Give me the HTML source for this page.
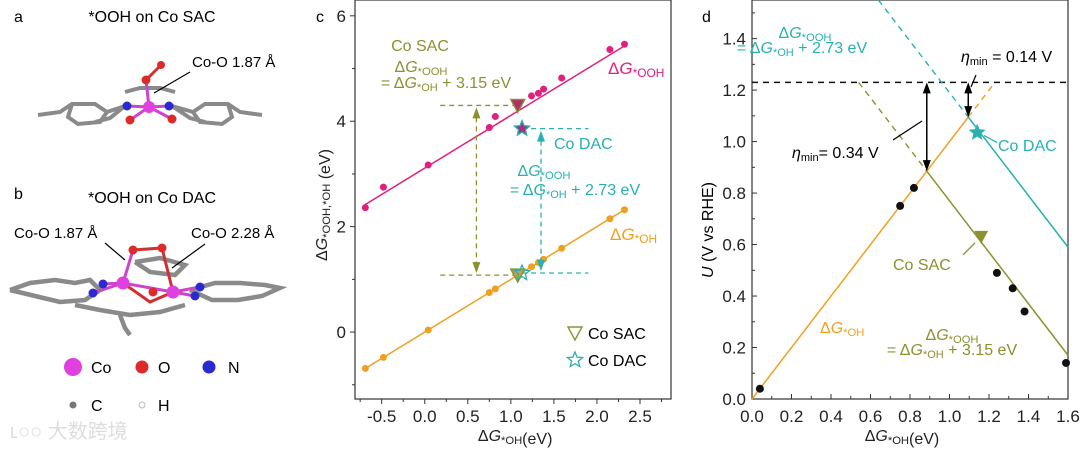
<!DOCTYPE html>
<html><head><meta charset="utf-8"><style>
html,body{margin:0;padding:0;background:#fff}
svg{display:block;font-family:"Liberation Sans","Noto Sans CJK SC",sans-serif}
</style></head><body>
<svg id="fig" width="1080" height="449" viewBox="0 0 1080 449">
<g id="panelA">
 <text x="14" y="22" font-size="16">a</text>
 <text x="152" y="22" font-size="16" text-anchor="middle">*OOH on Co SAC</text>
 <g stroke="#8a8a8a" stroke-width="4" fill="none">
  <polyline points="38,115 60,112 72,104 95,104 107,112 100,122 78,124 68,117 72,104"/>
  <polyline points="107,112 125,106 110,118 95,122"/>
  <polyline points="262,115 240,112 228,104 205,104 193,112 200,122 222,124 232,117 228,104"/>
  <polyline points="193,112 172,106 190,118 205,122"/>
  <polyline points="125,92 140,88 160,88 175,92"/>
 </g>
 <g stroke="#cc44cc" stroke-width="3"><line x1="149" y1="107" x2="146" y2="80"/><line x1="149" y1="107" x2="130" y2="120"/><line x1="149" y1="107" x2="172" y2="119"/><line x1="149" y1="107" x2="127" y2="106"/><line x1="149" y1="107" x2="169" y2="106"/></g>
 <line x1="146" y1="80" x2="161" y2="65" stroke="#d03030" stroke-width="3"/>
 <circle cx="127" cy="106" r="4.5" fill="#2a2ad0"/><circle cx="169" cy="106" r="4.5" fill="#2a2ad0"/>
 <circle cx="130" cy="120" r="4.5" fill="#dd2a2a"/><circle cx="172" cy="119" r="4.5" fill="#dd2a2a"/>
 <circle cx="146" cy="80" r="4.5" fill="#dd2a2a"/><circle cx="161" cy="65" r="4" fill="#dd2a2a"/>
 <circle cx="149" cy="107" r="6" fill="#e040e0"/>
 <text x="192" y="67" font-size="15">Co-O 1.87 Å</text>
 <line x1="190" y1="72" x2="154" y2="93" stroke="#000" stroke-width="1.2"/>

 <text x="14" y="199" font-size="16">b</text>
 <text x="152" y="203" font-size="16" text-anchor="middle">*OOH on Co DAC</text>
 <g stroke="#8a8a8a" stroke-width="4.5" fill="none">
  <polyline points="10,290 30,283 55,280 75,283 90,280 100,290 85,300 60,302 35,296 10,290"/>
  <polyline points="190,290 215,283 240,283 265,285 280,288 262,296 238,300 212,300 190,290"/>
  <polyline points="135,262 160,258 185,265 175,275 150,272 135,262"/>
  <polyline points="75,305 100,310 130,315 160,312 185,305"/>
  <polyline points="120,315 125,328 130,335"/>
 </g>
 <g stroke="#cc44cc" stroke-width="3"><line x1="123" y1="283" x2="173" y2="292"/><line x1="123" y1="283" x2="103" y2="284"/><line x1="123" y1="283" x2="93" y2="293"/><line x1="173" y1="292" x2="200" y2="287"/><line x1="173" y1="292" x2="195" y2="296"/><line x1="123" y1="283" x2="133" y2="250"/></g>
 <polyline points="133,250 162,248 173,292" stroke="#d03030" stroke-width="3" fill="none"/>
 <polyline points="123,283 150,302 173,292" stroke="#d03030" stroke-width="3" fill="none"/>
 <circle cx="103" cy="284" r="4.5" fill="#2a2ad0"/><circle cx="93" cy="293" r="4.5" fill="#2a2ad0"/><circle cx="200" cy="287" r="4.5" fill="#2a2ad0"/><circle cx="195" cy="296" r="4.5" fill="#2a2ad0"/>
 <circle cx="133" cy="250" r="4.5" fill="#dd2a2a"/><circle cx="162" cy="248" r="4.5" fill="#dd2a2a"/><circle cx="153" cy="292" r="4.5" fill="#dd2a2a"/>
 <circle cx="123" cy="283" r="6.5" fill="#e040e0"/><circle cx="173" cy="292" r="6.5" fill="#e040e0"/>
 <text x="14" y="238" font-size="15">Co-O 1.87 Å</text>
 <line x1="105" y1="243" x2="125" y2="260" stroke="#000" stroke-width="1.2"/>
 <text x="191" y="238" font-size="15">Co-O 2.28 Å</text>
 <line x1="205" y1="244" x2="172" y2="268" stroke="#000" stroke-width="1.2"/>

 <g>
  <circle cx="73" cy="367" r="9" fill="#e040e0"/><text x="91" y="373" font-size="16">Co</text>
  <circle cx="142" cy="367" r="6.5" fill="#dd2a2a"/><text x="158" y="373" font-size="16">O</text>
  <circle cx="209" cy="367" r="6.5" fill="#2a2ad0"/><text x="228" y="373" font-size="16">N</text>
  <circle cx="73" cy="405" r="3.5" fill="#777"/><text x="91" y="411" font-size="16">C</text>
  <circle cx="142" cy="405" r="3" fill="#fff" stroke="#bbb"/><text x="158" y="411" font-size="16">H</text>
 </g>
 <text x="10" y="438" font-size="20" fill="#ddd">ʟ○○ 大数跨境</text>
</g>

<g id="chartC"></g>
<g id="chartD"></g>
</svg>
<script>
// ---- Chart c data ----
const cX = [-0.69,-0.48,0.04,0.75,0.82,1.24,1.32,1.38,1.59,2.15,2.32];
const cOOH = [2.36,2.75,3.17,3.88,4.09,4.48,4.53,4.61,4.82,5.36,5.46];
const cOH = [-0.69,-0.48,0.04,0.75,0.82,1.24,1.32,1.38,1.59,2.15,2.32];
const cXTicks = [-0.5,0,0.5,1,1.5,2,2.5];
const cXTickLabels = ["-0.5","0.0","0.5","1.0","1.5","2.0","2.5"];
const cYTicks = [0,2,4,6];
const sacOH = 1.08, sacOOH = 4.30, sacX = 1.08;
const dacOH = 1.12, dacOOH = 3.86, dacX = 1.13;
// ---- Chart d data ----
const dX = [0.04,0.75,0.82,1.24,1.32,1.38,1.59];
const dU = [0.04,0.75,0.82,0.49,0.43,0.34,0.14];
const dXTicks = [0,0.2,0.4,0.6,0.8,1.0,1.2,1.4,1.6];
const dYTicks = [0,0.2,0.4,0.6,0.8,1.0,1.2,1.4];
const sacOffset = 3.15, dacOffset = 2.73, eq = 1.23;
const sacPoint = [1.16,0.63], dacPoint = [1.14,1.035];

const TF = 17, AF = 16;
const NS="http://www.w3.org/2000/svg";
function mk(parent,tag,attrs){const e=document.createElementNS(NS,tag);for(const k in attrs)e.setAttribute(k,attrs[k]);parent.appendChild(e);return e;}
function gtext(parent,x,y,sub,color,size,anchor){
  const t=mk(parent,'text',{x:x,y:y,'font-size':size,fill:color,'text-anchor':anchor||'start'});
  t.innerHTML='Δ<tspan font-style="italic">G</tspan><tspan font-size="'+(size*0.7)+'" dy="3">*'+sub+'</tspan>';
  return t;
}
function eqText(parent,x,y,color,val){
  const t=mk(parent,'text',{x:x,y:y,'font-size':AF,fill:color,'text-anchor':'middle'});
  t.innerHTML='= Δ<tspan font-style="italic">G</tspan><tspan font-size="11" dy="3">*OH</tspan><tspan dy="-3"> + '+val+' eV</tspan>';
  return t;
}
const OR='#f0a020',PK='#e0207f',OL='#8c9030',TL='#2ab0b0';

// ===== Chart c =====
(function(){
 const g=document.getElementById('chartC');
 const L=355,R=671,T=0,B=399,xmin=-0.81,xmax=2.86,ymin=-1.27,ymax=6.3;
 const sx=v=>L+(v-xmin)/(xmax-xmin)*(R-L), sy=v=>B-(v-ymin)/(ymax-ymin)*(B-T);
 let e=mk(g,'rect',{x:L,y:T,width:R-L,height:B-T,fill:'none',stroke:'#333','stroke-width':1.2});
 
 const lab=mk(g,'text',{x:316,y:22,'font-size':16});lab.textContent='c';
 
 cXTicks.forEach((v,i)=>{mk(g,'line',{x1:sx(v),x2:sx(v),y1:B,y2:B+5,stroke:'#333'});
  const t=mk(g,'text',{x:sx(v),y:B+23,'font-size':TF,'text-anchor':'middle',fill:'#222'});t.textContent=cXTickLabels[i];
  
  mk(g,'line',{x1:sx(v+0.25),x2:sx(v+0.25),y1:B,y2:B+3,stroke:'#333'});});
 mk(g,'line',{x1:sx(-0.75),x2:sx(-0.75),y1:B,y2:B+3,stroke:'#333'});
 cYTicks.forEach(v=>{mk(g,'line',{x1:L-5,x2:L,y1:sy(v),y2:sy(v),stroke:'#333'});
  const t=mk(g,'text',{x:L-9,y:sy(v)+6,'font-size':TF,'text-anchor':'end',fill:'#222'});t.textContent=v;
  
  mk(g,'line',{x1:L-3,x2:L,y1:sy(v-1),y2:sy(v-1),stroke:'#333'});});
 const xt=gtext(g,sx(1.05),441,'OH','#222',AF,'middle');xt.innerHTML+='(eV)';
 
 const yt=gtext(g,0,0,'OOH,*OH','#222',AF,'middle');yt.setAttribute('transform','translate(327,205) rotate(-90)');yt.innerHTML+=' (eV)';
 
 let l=mk(g,'line',{x1:sx(-0.69),y1:sy(-0.69+3.11),x2:sx(2.32),y2:sy(2.32+3.11),stroke:PK,'stroke-width':1.5});
 
 l=mk(g,'line',{x1:sx(-0.69),y1:sy(-0.69),x2:sx(2.32),y2:sy(2.32),stroke:OR,'stroke-width':1.5});
 
 cX.forEach((x,i)=>{let c=mk(g,'circle',{cx:sx(x),cy:sy(cOOH[i]),r:3.5,fill:PK});
  
  c=mk(g,'circle',{cx:sx(x),cy:sy(cOH[i]),r:3.5,fill:OR});
  });
 const dash={'stroke-dasharray':'5,4','stroke-width':1.3};
 mk(g,'line',Object.assign({x1:sx(0.18),x2:sx(sacX),y1:sy(sacOOH),y2:sy(sacOOH),stroke:OL},dash));
 mk(g,'line',Object.assign({x1:sx(0.18),x2:sx(sacX),y1:sy(sacOH),y2:sy(sacOH),stroke:OL},dash));
 mk(g,'line',Object.assign({x1:sx(0.6),x2:sx(0.6),y1:sy(sacOOH)+12,y2:sy(sacOH)-12,stroke:OL},dash));
 mk(g,'polygon',{points:`${sx(0.6)-4},${sy(sacOOH)+13} ${sx(0.6)+4},${sy(sacOOH)+13} ${sx(0.6)},${sy(sacOOH)+2}`,fill:OL});
 mk(g,'polygon',{points:`${sx(0.6)-4},${sy(sacOH)-13} ${sx(0.6)+4},${sy(sacOH)-13} ${sx(0.6)},${sy(sacOH)-2}`,fill:OL});
 mk(g,'line',Object.assign({x1:sx(dacX),x2:sx(1.9),y1:sy(dacOOH),y2:sy(dacOOH),stroke:TL},dash));
 mk(g,'line',Object.assign({x1:sx(dacX),x2:sx(1.9),y1:sy(dacOH),y2:sy(dacOH),stroke:TL},dash));
 mk(g,'line',Object.assign({x1:sx(1.35),x2:sx(1.35),y1:sy(dacOOH)+12,y2:sy(dacOH)-12,stroke:TL},dash));
 mk(g,'polygon',{points:`${sx(1.35)-4},${sy(dacOOH)+13} ${sx(1.35)+4},${sy(dacOOH)+13} ${sx(1.35)},${sy(dacOOH)+2}`,fill:TL});
 mk(g,'polygon',{points:`${sx(1.35)-4},${sy(dacOH)-13} ${sx(1.35)+4},${sy(dacOH)-13} ${sx(1.35)},${sy(dacOH)-2}`,fill:TL});
 const tri=(x,y,fill,stroke)=>mk(g,'polygon',{points:`${x-7},${y-6} ${x+7},${y-6} ${x},${y+7}`,fill:fill,stroke:stroke,'stroke-width':1.4});
 const star=(x,y,fill,stroke,r)=>{let p=[];for(let k=0;k<10;k++){const a=-Math.PI/2+k*Math.PI/5,rr=k%2?r*0.45:r;p.push((x+rr*Math.cos(a)).toFixed(1)+','+(y+rr*Math.sin(a)).toFixed(1));}return mk(g,'polygon',{points:p.join(' '),fill:fill,stroke:stroke,'stroke-width':1.3});};
 let m=tri(sx(sacX),sy(sacOOH),'#b0306a',OL);
 m=tri(sx(sacX),sy(sacOH),'#c8a040',OL);
 m=star(sx(dacX),sy(dacOOH),'#a03080',TL,8);
 m=star(sx(dacX),sy(dacOH),'none',TL,8);
 m=tri(575,333,'none',OL);
 let t=mk(g,'text',{x:588,y:339,'font-size':AF});t.textContent='Co SAC';
 m=star(575,360,'none',TL,8);
 t=mk(g,'text',{x:588,y:366,'font-size':AF});t.textContent='Co DAC';
 t=mk(g,'text',{x:420,y:51,'font-size':AF,fill:OL,'text-anchor':'middle'});t.textContent='Co SAC';
 gtext(g,421,72,'OOH',OL,AF,'middle');
 t=eqText(g,446,88,OL,'3.15');
 t=gtext(g,608,74,'OOH',PK,AF+1,'start');
 t=gtext(g,610,240,'OH',OR,AF+1,'start');
 t=mk(g,'text',{x:554,y:149,'font-size':AF,fill:TL});t.textContent='Co DAC';
 gtext(g,544,176,'OOH',TL,AF,'middle');
 t=eqText(g,575,195,TL,'2.73');
})();

// ===== Chart d =====
(function(){
 const g=document.getElementById('chartD');
 const L=752,R=1068,T=0,B=399,xmin=0,xmax=1.6,ymin=0,ymax=1.55;
 const sx=v=>L+(v-xmin)/(xmax-xmin)*(R-L), sy=v=>B-(v-ymin)/(ymax-ymin)*(B-T);
 let e=mk(g,'rect',{x:L,y:T,width:R-L,height:B-T,fill:'none',stroke:'#333','stroke-width':1.2});
 
 const lab=mk(g,'text',{x:702,y:22,'font-size':16});lab.textContent='d';
 
 dXTicks.forEach(v=>{mk(g,'line',{x1:sx(v),x2:sx(v),y1:B,y2:B-5,stroke:'#333'});
  if(v<1.6)mk(g,'line',{x1:sx(v+0.1),x2:sx(v+0.1),y1:B,y2:B-3,stroke:'#333'});
  const t=mk(g,'text',{x:sx(v),y:B+23,'font-size':TF,'text-anchor':'middle',fill:'#222'});t.textContent=v.toFixed(1);
  });
 dYTicks.forEach(v=>{mk(g,'line',{x1:L,x2:L+5,y1:sy(v),y2:sy(v),stroke:'#333'});
  mk(g,'line',{x1:L,x2:L+3,y1:sy(v+0.1),y2:sy(v+0.1),stroke:'#333'});
  const t=mk(g,'text',{x:L-6,y:sy(v)+6,'font-size':TF,'text-anchor':'end',fill:'#222'});t.textContent=v.toFixed(1);
  });
 const xt=gtext(g,sx(0.8)-8,441,'OH','#222',AF,'middle');xt.innerHTML+='(eV)';
 
 const yt=mk(g,'text',{'font-size':AF,'text-anchor':'middle',transform:'translate(713,230) rotate(-90)'});
 yt.innerHTML='<tspan font-style="italic">U</tspan> (V vs RHE)';
 
 const dash={'stroke-dasharray':'6,5','stroke-width':1.4};
 const xSac=(4.92-sacOffset)/2, xDac=(4.92-dacOffset)/2;
 let l=mk(g,'line',Object.assign({x1:L,x2:R,y1:sy(eq),y2:sy(eq),stroke:'#111'},dash));
 
 l=mk(g,'line',{x1:sx(0),y1:sy(0),x2:sx(xDac),y2:sy(xDac),stroke:OR,'stroke-width':1.5});
 
 mk(g,'line',Object.assign({x1:sx(xDac),y1:sy(xDac),x2:sx(eq),y2:sy(eq),stroke:OR},dash));
 const us=x=>4.92-sacOffset-x, ud=x=>4.92-dacOffset-x;
 l=mk(g,'line',{x1:sx(xSac),y1:sy(us(xSac)),x2:sx(1.6),y2:sy(us(1.6)),stroke:OL,'stroke-width':1.5});
 
 mk(g,'line',Object.assign({x1:sx(4.92-sacOffset-eq),y1:sy(eq),x2:sx(xSac),y2:sy(us(xSac)),stroke:OL},dash));
 l=mk(g,'line',{x1:sx(xDac),y1:sy(ud(xDac)),x2:sx(1.6),y2:sy(ud(1.6)),stroke:TL,'stroke-width':1.5});
 
 mk(g,'line',Object.assign({x1:sx(4.92-dacOffset-ymax),y1:sy(ymax),x2:sx(xDac),y2:sy(ud(xDac)),stroke:TL},dash));
 dX.forEach((x,i)=>{const c=mk(g,'circle',{cx:sx(x),cy:sy(dU[i]),r:4,fill:'#111'});
  });
 function darrow(x,y1,y2,name){const a=mk(g,'line',{x1:sx(x),x2:sx(x),y1:sy(y1)+10,y2:sy(y2)-10,stroke:'#000','stroke-width':1.5});
  
  mk(g,'polygon',{points:`${sx(x)-4},${sy(y1)+11} ${sx(x)+4},${sy(y1)+11} ${sx(x)},${sy(y1)}`,fill:'#000'});
  mk(g,'polygon',{points:`${sx(x)-4},${sy(y2)-11} ${sx(x)+4},${sy(y2)-11} ${sx(x)},${sy(y2)}`,fill:'#000'});}
 darrow(xSac,eq,us(xSac),'sac-overpotential-arrow');
 darrow(xDac,eq,xDac,'dac-overpotential-arrow');
 let m=mk(g,'polygon',{points:`${sx(sacPoint[0])-7},${sy(sacPoint[1])-6} ${sx(sacPoint[0])+7},${sy(sacPoint[1])-6} ${sx(sacPoint[0])},${sy(sacPoint[1])+7}`,fill:OL});
 
 let p=[];const cx=sx(dacPoint[0]),cy=sy(dacPoint[1]);for(let k=0;k<10;k++){const a=-Math.PI/2+k*Math.PI/5,rr=k%2?4:9;p.push((cx+rr*Math.cos(a)).toFixed(1)+','+(cy+rr*Math.sin(a)).toFixed(1));}
 m=mk(g,'polygon',{points:p.join(' '),fill:TL});
 mk(g,'line',{x1:cx+7,y1:cy+3,x2:cx+20,y2:cy+10,stroke:TL,'stroke-width':1.3});
 mk(g,'line',{x1:sx(sacPoint[0])-6,y1:sy(sacPoint[1])+6,x2:sx(sacPoint[0])-18,y2:sy(sacPoint[1])+18,stroke:OL,'stroke-width':1.3});
 mk(g,'line',{x1:893,y1:140,x2:922,y2:121,stroke:'#000','stroke-width':1.2});
 mk(g,'line',{x1:971,y1:87,x2:976,y2:75,stroke:'#000','stroke-width':1.2});
 let t=mk(g,'text',{x:998,y:151,'font-size':AF,fill:TL});t.textContent='Co DAC';
 t=mk(g,'text',{x:893,y:270,'font-size':AF,fill:OL});t.textContent='Co SAC';
 t=mk(g,'text',{x:792,y:158,'font-size':AF});t.innerHTML='<tspan font-style="italic">η</tspan><tspan font-size="11" dy="3">min</tspan><tspan dy="-3">= 0.34 V</tspan>';
 
 t=mk(g,'text',{x:961,y:62,'font-size':AF});t.innerHTML='<tspan font-style="italic">η</tspan><tspan font-size="11" dy="3">min</tspan><tspan dy="-3"> = 0.14 V</tspan>';
 
 gtext(g,805,38,'OOH',TL,AF,'middle');
 t=eqText(g,802,53,TL,'2.73');
 t=gtext(g,820,333,'OH',OR,AF,'start');
 gtext(g,952,340,'OOH',OL,AF,'middle');
 t=eqText(g,952,355,OL,'3.15');
})();
</script>
</body></html>
